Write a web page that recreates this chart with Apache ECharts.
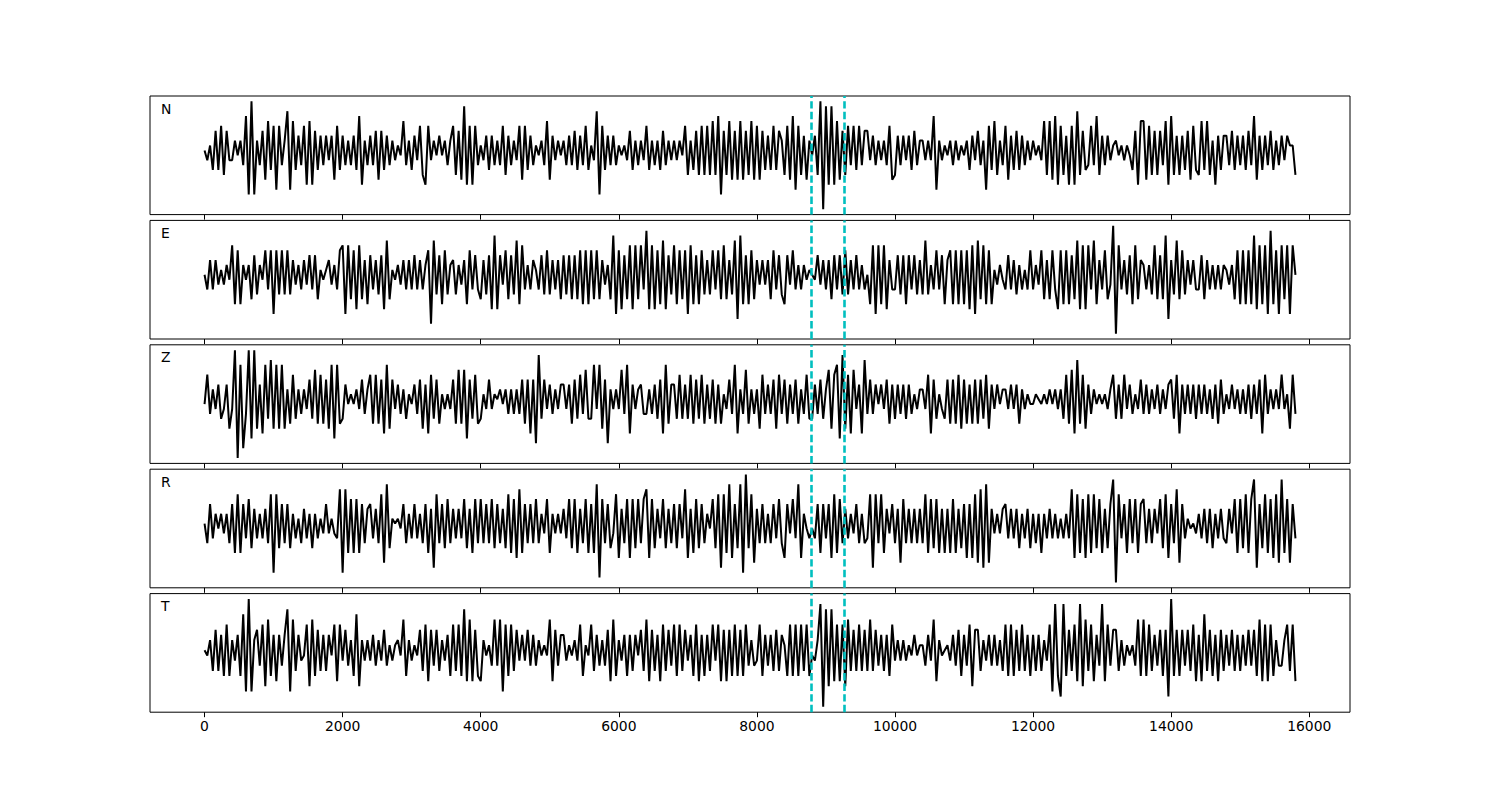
<!DOCTYPE html>
<html>
<head>
<meta charset="utf-8">
<script src="https://cdn.jsdelivr.net/npm/echarts/dist/echarts.min.js"></script>
<style>
html,body{margin:0;padding:0;background:#fff;}
#chart{width:1500px;height:800px;}
</style>
</head>
<body>
<div id="chart"></div>
<script>
// ---- data ----
const CHANNELS = ['N', 'E', 'Z', 'R', 'T'];
const SAMPLE_STEP = 40;            // x distance between stored samples
const X_TICKS = [0, 2000, 4000, 6000, 8000, 10000, 12000, 14000, 16000];
const PICKS = [8780, 9270];        // cyan dashed markers

const N_TRACE = [
0,-2,1,-4,4,-4,5,-5,4,-2,
-2,2,-1,2,-3,7,-9,10,-9,2,
-3,4,-6,6,-4,5,-8,5,-3,2,
8,-8,6,-4,3,-3,5,-7,6,-7,
4,-4,3,-3,3,-2,3,-6,5,-4,
3,-3,2,-3,3,-4,7,-7,2,-3,
3,-3,4,-6,4,-4,3,-3,2,-2,
1,-1,6,-3,2,-4,3,-2,5,-5,
-7,5,-2,2,-1,3,-1,2,-3,2,
5,-5,4,-6,9,-7,5,-7,5,-3,
1,-2,3,-4,3,-3,2,-3,5,-5,
3,-3,2,-2,5,-6,5,-4,3,-3,
1,-1,2,-3,6,-6,3,-2,2,-1,
2,-3,3,-3,4,-4,3,-3,5,-4,
1,-2,8,-9,5,-4,3,-3,3,-3,
1,-1,1,-2,4,-4,2,-3,2,-2,
5,-4,2,-3,2,-4,4,-3,2,-2,
2,-2,2,-1,5,-5,2,-4,4,-5,
5,-5,5,-5,6,-5,7,-9,4,-5,
6,-6,4,-6,6,-6,4,-5,6,-6,
5,-6,4,-4,3,-4,5,-4,4,2,
-5,5,-6,7,-8,5,-5,3,-6,2,
-1,3,-5,10,-12,9,-7,9,-7,6,
-6,4,-5,5,-3,5,-4,5,-3,4,
4,-2,3,-3,2,-2,2,-3,5,-6,
-5,3,-3,3,-2,3,-4,4,-3,2,
2,-2,2,-2,7,-8,2,-2,1,-1,
2,-3,2,-2,1,-1,2,-4,3,-2,
4,-3,2,-8,5,-4,6,-5,2,-3,
5,-6,3,-4,4,-4,3,-3,2,-2,
2,-1,1,-2,6,-5,6,-6,7,-7,
5,-5,3,-7,5,-7,8,-5,4,-4,
-3,5,-3,7,-5,3,-3,3,-2,1,
2,-1,1,-2,1,-1,-4,4,-7,6,
6,-6,5,-5,4,-5,4,-3,6,-7,
7,-5,3,-5,3,-4,4,-6,5,-4,
-5,6,-4,6,-5,2,-7,3,-4,3,
3,-3,4,-4,3,-3,3,-4,4,-3,
7,-6,3,-4,3,-3,4,-4,2,-3,
3,-2,3,1,1,-5
];

const E_TRACE = [
0,-3,3,-3,3,-2,1,-2,2,-1,
6,-6,5,-6,2,-1,2,-5,4,-4,
2,-1,5,-3,5,-8,5,-4,5,-4,
5,-4,3,-2,2,-3,3,-2,4,-3,
4,-5,1,-1,1,3,-2,2,-3,5,
6,-8,6,-5,5,-7,6,-5,3,-6,
4,-3,3,-4,4,-7,7,-5,1,-1,
2,-2,3,-3,3,-3,4,-3,3,-3,
2,5,-10,7,-4,4,-6,5,-4,2,
3,-4,2,-2,3,-6,5,-3,4,-3,
-5,3,-4,4,-7,8,-7,4,-2,5,
-5,4,-4,7,-6,6,-3,2,-3,3,
1,-3,4,-4,5,-4,3,-3,3,-5,
4,-4,4,-5,4,-5,5,-6,5,-6,
5,-5,5,-5,3,-2,2,-5,8,-8,
5,-7,4,-5,6,-7,6,-5,6,-3,
9,-7,6,-7,5,-6,7,-7,4,-4,
6,-6,5,-5,5,-8,6,-6,4,-6,
5,-4,3,-4,5,-3,5,-5,6,-5,
3,-4,7,-9,8,-6,4,-6,5,-5,
3,-2,3,-2,3,-5,5,-3,4,-4,
-6,4,-2,5,-3,2,-3,2,-1,1,
0,-1,4,-2,3,-3,3,-5,4,-3,
4,-4,5,-4,3,-3,4,-3,2,-3,
0,-6,6,-8,6,-6,6,-7,3,-3,
-3,4,-4,4,-6,4,-3,4,-4,3,
-4,7,-4,2,-3,5,-3,4,-6,3,
5,-6,5,-6,5,-6,5,-7,6,-8,
7,-5,6,-6,5,-6,1,-2,2,-1,
-3,4,-3,3,-4,2,-3,1,-3,5,
-3,2,-2,5,-5,3,-5,5,-3,-7,
5,-6,5,-6,4,-5,7,-7,6,-7,
6,-3,7,-6,3,-3,5,-5,-2,10,
-12,6,-3,3,-4,4,-6,6,-5,3,
2,-3,2,-4,6,-5,4,-5,8,-9,
3,-4,7,-5,5,-4,3,-2,3,-3,
-3,4,-5,3,-3,2,-3,2,-3,2,
1,-2,2,-5,5,-6,5,-6,5,-6,
8,-7,6,-6,6,-8,9,-6,5,-8,
6,-5,6,-8,6,0
];

const Z_TRACE = [
-1,5,-3,2,-2,3,-4,-2,3,-6,
-2,10,-12,7,-10,-3,10,-8,10,-6,
3,-7,7,-4,8,-6,7,-6,7,-6,
2,-5,5,-4,2,-3,2,-2,4,-4,
6,-5,5,-5,4,-6,7,-8,7,-5,
-4,3,-1,1,-1,2,-2,4,-3,2,
5,-5,5,-5,4,-7,7,-6,4,-2,
3,-3,2,-4,1,-1,3,-3,4,-6,
3,-7,5,-4,4,-5,1,-2,1,-2,
4,-5,6,-5,6,-8,4,-4,5,-5,
-4,1,-2,4,-2,1,0,2,-1,2,
-3,2,-3,2,-3,4,-5,4,-7,4,
-9,9,-4,4,-2,3,-3,2,-2,3,
3,-2,3,-5,4,-4,5,-3,6,-4,
-4,7,-2,7,-6,4,-9,2,-2,2,
-2,6,-3,7,-7,3,-2,2,3,-3,
-3,2,-3,3,-4,4,-7,7,-5,3,
3,-4,5,-4,3,-4,5,-5,4,-4,
5,-5,3,-4,4,-5,3,-5,1,-2,
4,-3,7,-7,2,-3,6,-5,2,-3,
2,-6,5,-3,3,-3,4,-6,5,-3,
4,-5,3,-3,4,-5,2,-3,5,-4,
-4,3,-3,4,-4,2,6,-6,5,7,
-8,9,-6,5,-7,6,-2,3,-7,8,
-3,4,-3,3,-1,3,-2,4,-5,3,
-4,3,-3,3,-4,3,-3,1,-2,2,
2,-2,5,-7,4,-4,1,-2,-4,4,
-5,4,-5,5,-6,4,-5,3,-5,4,
-5,4,-4,5,-6,3,-2,3,-1,2,
2,-2,3,-2,3,-5,2,-2,1,-1,
-1,1,0,-1,1,-1,2,-1,2,-2,
2,-4,5,-5,6,-7,8,-5,5,-6,
3,-3,2,-1,1,-1,1,-2,2,5,
-4,3,-4,5,-2,3,-3,1,-2,4,
-3,3,-3,2,-2,3,-3,2,-2,3,
4,-4,5,-7,3,-3,3,-3,3,-4,
3,-3,3,-3,2,-4,3,-5,4,-3,
1,-2,3,-2,2,-3,2,-3,3,-4,
3,-3,4,-7,5,-3,2,-2,2,-2,
5,-2,1,-6,5,-3
];

const R_TRACE = [
0,-4,4,-3,2,-1,2,-2,2,-4,
4,-6,6,-6,4,-3,5,-5,3,-3,
2,-3,3,-4,6,-10,6,-5,4,-4,
4,-5,2,-3,1,-4,3,-3,2,-5,
2,-3,1,-2,4,-2,1,-2,-3,7,
-10,7,-6,5,-6,5,-6,4,-4,3,
4,-3,3,-4,6,-8,8,-5,1,0,
1,-1,4,-4,2,-3,4,-3,2,-4,
4,-6,3,-9,6,-4,4,-5,5,-4,
3,-3,3,-3,5,-5,3,-6,5,-4,
5,-4,4,-4,5,-5,4,-4,3,-5,
6,-6,5,-7,7,-6,4,-4,4,-4,
5,-4,2,-2,5,-6,2,-2,2,-2,
3,-3,5,-5,5,-6,3,-4,5,-6,
4,-6,8,-11,5,-4,4,-5,-2,6,
-7,3,-4,5,-7,5,-5,5,-4,5,
7,-7,5,-5,3,-3,5,-5,3,-4,
4,-5,4,-3,7,-7,3,-6,5,-5,
4,-4,2,-1,5,-5,6,-9,6,-6,
8,-7,4,-5,8,-10,10,-5,6,-8,
3,-4,4,-4,2,-4,4,-3,5,-4,
-7,4,-2,5,-3,8,-7,2,-1,-3,
-1,-3,4,-6,4,-3,4,-7,6,-6,
5,-4,3,-3,2,-2,4,-4,2,-4,
-3,6,-9,6,-4,6,-6,3,-2,4,
-4,3,-8,5,-4,3,-4,3,-4,3,
-4,6,-6,5,-5,5,-6,3,-6,3,
-6,5,-6,3,-5,4,-7,4,-7,6,
-8,7,-9,8,-8,3,-2,2,-2,3,
4,-3,3,-3,3,-5,2,-3,3,-5,
2,-4,2,-6,2,-3,3,-3,2,-3,
1,-3,2,-3,7,-7,6,-6,5,-7,
6,-6,6,-5,5,-6,3,-5,4,9,
-12,6,-3,4,-6,5,-4,5,-6,4,
5,-4,3,-4,3,-2,5,-5,6,-7,
4,-4,7,-8,4,-3,1,-1,0,-2,
2,-3,3,-4,3,-5,2,-3,3,-3,
-4,3,-2,5,-6,5,-5,6,-6,5,
9,-9,4,-5,6,-6,5,-7,6,-8,
9,-6,5,-8,4,-3
];

const T_TRACE = [
0,-1,2,-4,4,-4,3,-5,5,-5,
2,-2,3,-5,7,-8,10,-8,2,4,
-3,5,-7,6,-5,3,-6,3,-3,3,
8,-8,6,-4,3,-2,-1,5,-7,6,
-5,4,-4,3,-4,3,-1,5,-6,5,
-2,4,-3,2,-5,7,-7,2,-2,2,
-2,3,-3,2,-2,4,-3,1,-2,1,
2,-1,6,-5,2,-2,1,-1,4,-4,
5,-6,4,-3,4,-4,2,-2,3,-5,
5,-4,5,-5,8,-6,6,-6,4,-5,
-6,2,-1,1,-3,6,-3,6,-8,5,
-5,5,-4,4,-2,3,-2,4,-3,3,
-3,2,-1,1,-1,6,-6,4,-3,3,
3,-2,1,-1,2,-2,5,-5,1,-1,
5,-4,3,-3,2,-3,4,-6,6,-5,
2,-2,3,-5,3,-4,3,-1,4,-4,
6,-6,4,-4,3,-6,5,-4,4,-3,
5,-5,5,-4,4,-2,3,-5,5,-6,
3,-5,3,-4,5,-2,5,-6,4,-6,
4,-5,5,-5,4,-5,5,-3,2,-3,
-2,5,-5,3,-3,3,-4,4,-4,3,
1,-5,5,-5,5,-5,5,-4,5,-5,
-1,-2,2,9,-11,8,-7,8,-6,5,
-6,5,-7,6,-4,4,-4,5,-4,4,
-4,6,-4,4,-3,3,-4,3,-5,5,
-2,2,-2,2,-2,1,-1,3,-1,1,
1,-3,3,-2,6,-6,2,-1,0,1,
-2,3,-3,4,-5,3,-3,5,-7,4,
4,-4,2,-2,3,-3,3,-3,2,-4,
5,-5,5,-5,4,-4,5,-4,3,-5,
3,-4,3,-4,2,-2,5,-8,9,-5,
-9,9,-5,4,-4,5,-6,9,-7,6,
-4,5,-6,3,-3,9,-6,5,-3,4,
4,-4,2,-3,1,-1,1,-3,6,-5,
6,-5,5,-4,3,-3,4,-5,4,-9,
10,-5,4,-5,4,-3,4,-4,5,-6,
3,-6,7,-4,4,-5,3,-6,4,-4,
3,-3,4,-4,3,-4,3,-3,4,-3,
4,-5,6,-6,5,-6,5,-5,2,-3,
-3,2,5,-4,5,-6
];

const TRACES = [N_TRACE, E_TRACE, Z_TRACE, R_TRACE, T_TRACE];

// ---- layout ----
const X_MIN = -790, X_MAX = 16590;
const GRID_LEFT = 150, GRID_WIDTH = 1200;
const GRID_TOP0 = 96, GRID_STEP = 124.4, GRID_HEIGHT = 118.6;
const FONT = 'DejaVu Sans';

const grids = [], xAxes = [], yAxes = [], series = [], graphics = [];
TRACES.forEach((vals, k) => {
  const top = GRID_TOP0 + k * GRID_STEP;
  grids.push({
    left: GRID_LEFT, top: top, width: GRID_WIDTH, height: GRID_HEIGHT,
    show: true, borderColor: '#000', borderWidth: 1, backgroundColor: 'transparent'
  });
  xAxes.push({
    gridIndex: k, type: 'value', min: X_MIN, max: X_MAX, position: 'bottom',
    axisLine: { show: false, onZero: false },
    splitLine: { show: false },
    axisTick: { show: true, inside: false, length: 5, lineStyle: { color: '#000', width: 1 }, customValues: X_TICKS },
    axisLabel: {
      show: k === TRACES.length - 1, customValues: X_TICKS,
      color: '#000', fontSize: 13.9, fontFamily: FONT, margin: 7,
      formatter: v => String(v)
    }
  });
  const lo = Math.min(...vals), hi = Math.max(...vals), pad = 0.05 * (hi - lo);
  yAxes.push({ gridIndex: k, type: 'value', min: lo - pad, max: hi + pad, show: false });
  series.push({
    type: 'line', xAxisIndex: k, yAxisIndex: k,
    data: vals.map((v, i) => [i * SAMPLE_STEP, v]),
    symbol: 'none', showSymbol: false, smooth: false,
    lineStyle: { color: '#000', width: 2 },
    silent: true,
    markLine: {
      silent: true, symbol: ['none', 'none'], label: { show: false },
      lineStyle: { color: '#00bfbf', width: 2.6, type: [7.4, 3.2], opacity: 1 },
      emphasis: { disabled: true },
      data: PICKS.map(p => ({ xAxis: p }))
    }
  });
  graphics.push({
    type: 'text', x: 161, y: top + 12.5,
    style: { text: CHANNELS[k], fill: '#000', fontSize: 13.9, fontFamily: FONT, align: 'left', verticalAlign: 'middle' }
  });
});

const chart = echarts.init(document.getElementById('chart'), null, { renderer: 'svg' });
chart.setOption({
  animation: false,
  backgroundColor: '#fff',
  grid: grids,
  xAxis: xAxes,
  yAxis: yAxes,
  series: series,
  graphic: graphics
});
</script>
</body>
</html>
